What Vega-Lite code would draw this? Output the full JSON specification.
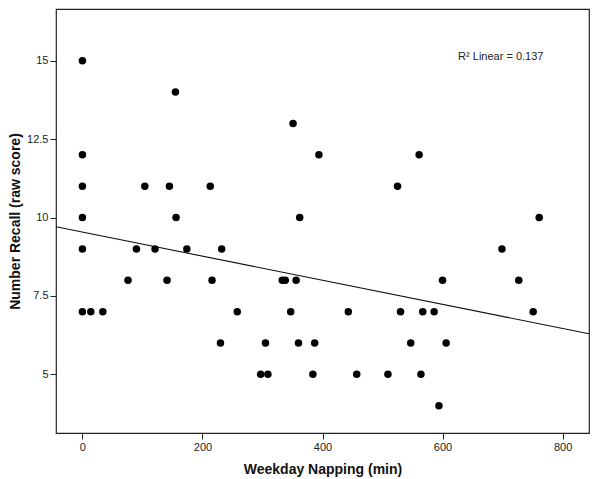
{
  "$schema": "https://vega.github.io/schema/vega-lite/v6.json",
  "width": 533,
  "height": 424,
  "autosize": {"type": "none"},
  "padding": {"left": 56, "top": 9, "right": 11, "bottom": 46},
  "config": {
    "view": {"stroke": "#222", "strokeWidth": 1.2},
    "font": "Liberation Sans",
    "axis": {
      "grid": false,
      "domain": false,
      "tickColor": "#222",
      "tickSize": 6,
      "labelFont": "Liberation Sans",
      "labelFontSize": 11,
      "labelColor": "#222",
      "titleFont": "Liberation Sans",
      "titleFontSize": 14,
      "titleFontWeight": "bold",
      "titleColor": "#111"
    }
  },
  "datasets": {
    "pts": [
      {"nap": 0, "recall": 15}, {"nap": 155, "recall": 14}, {"nap": 0, "recall": 12}, {"nap": 0, "recall": 11},
      {"nap": 104, "recall": 11}, {"nap": 145, "recall": 11}, {"nap": 213, "recall": 11}, {"nap": 0, "recall": 10},
      {"nap": 156, "recall": 10}, {"nap": 0, "recall": 9}, {"nap": 90, "recall": 9}, {"nap": 121, "recall": 9},
      {"nap": 174, "recall": 9}, {"nap": 232, "recall": 9}, {"nap": 76, "recall": 8}, {"nap": 141, "recall": 8},
      {"nap": 216, "recall": 8}, {"nap": 0, "recall": 7}, {"nap": 14, "recall": 7}, {"nap": 34, "recall": 7},
      {"nap": 258, "recall": 7}, {"nap": 230, "recall": 6},
      {"nap": 351, "recall": 13}, {"nap": 394, "recall": 12}, {"nap": 561, "recall": 12}, {"nap": 525, "recall": 11},
      {"nap": 362, "recall": 10}, {"nap": 333, "recall": 8}, {"nap": 338, "recall": 8}, {"nap": 356, "recall": 8},
      {"nap": 600, "recall": 8}, {"nap": 347, "recall": 7}, {"nap": 443, "recall": 7}, {"nap": 530, "recall": 7},
      {"nap": 567, "recall": 7}, {"nap": 586, "recall": 7}, {"nap": 305, "recall": 6}, {"nap": 360, "recall": 6},
      {"nap": 387, "recall": 6}, {"nap": 547, "recall": 6}, {"nap": 297, "recall": 5}, {"nap": 309, "recall": 5},
      {"nap": 384, "recall": 5}, {"nap": 457, "recall": 5}, {"nap": 509, "recall": 5}, {"nap": 564, "recall": 5},
      {"nap": 594, "recall": 4},
      {"nap": 761, "recall": 10}, {"nap": 699, "recall": 9}, {"nap": 727, "recall": 8}, {"nap": 751, "recall": 7},
      {"nap": 606, "recall": 6}
    ],
    "note": [{"nap": 697, "recall": 15.13, "label": "R² Linear = 0.137"}]
  },
  "layer": [
    {
      "data": {"name": "pts"},
      "mark": {"type": "point", "filled": true, "color": "#000", "opacity": 1, "size": 56},
      "encoding": {
        "x": {"field": "nap", "type": "quantitative", "title": "Weekday Napping (min)",
              "scale": {"domain": [-44, 844], "nice": false, "zero": false},
              "axis": {"values": [0, 200, 400, 600, 800], "titlePadding": 10, "labelPadding": 2}},
        "y": {"field": "recall", "type": "quantitative", "title": "Number Recall (raw score)",
              "scale": {"domain": [3.13, 16.65], "nice": false, "zero": false},
              "axis": {"values": [5, 7.5, 10, 12.5, 15], "labelExpr": "toString(datum.value)", "titlePadding": 4, "labelPadding": 2}}
      }
    },
    {
      "data": {"name": "pts"},
      "transform": [{"regression": "recall", "on": "nap", "method": "linear", "extent": [-44, 844]}],
      "mark": {"type": "line", "color": "#111", "strokeWidth": 1.1},
      "encoding": {
        "x": {"field": "nap", "type": "quantitative"},
        "y": {"field": "recall", "type": "quantitative"}
      }
    },
    {
      "data": {"name": "note"},
      "mark": {"type": "text", "fontSize": 11, "color": "#222", "align": "center", "baseline": "middle"},
      "encoding": {
        "x": {"field": "nap", "type": "quantitative"},
        "y": {"field": "recall", "type": "quantitative"},
        "text": {"field": "label"}
      }
    }
  ]
}
